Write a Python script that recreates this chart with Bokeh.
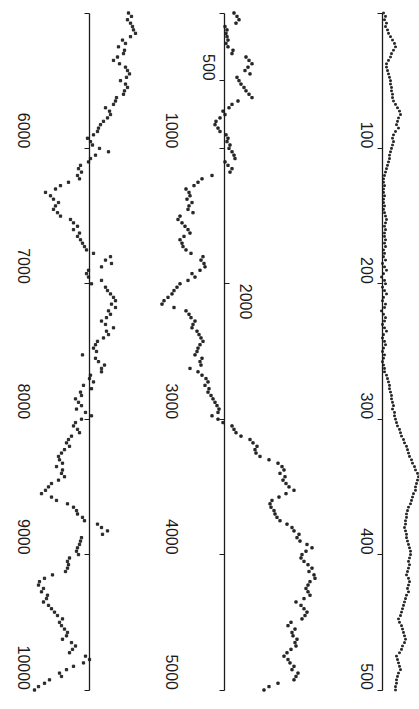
import math
import numpy as np
from bokeh.plotting import figure
from bokeh.layouts import row
from bokeh.models import Range1d, LinearAxis, FixedTicker
from bokeh.embed import file_html
from bokeh.resources import INLINE

# ---------------- data ----------------
# panel 1: 0..500, sampled every 2.5
t_fine = np.arange(0, 500.001, 2.5)
v_fine = [1, 3, 2, 4, 3, 5,
          6, 8, 10, 12, 13, 11, 9,
          8, 6,
          4, 4, 5, 6, 7, 8, 8, 9, 9, 10, 10, 11,
          13, 15, 17, 18, 16, 15, 14, 16, 13,
          11, 10, 11, 10, 9, 8,
          7, 7, 6, 5, 4, 3,
          2, 1, 1, 2, 1, 1, 2, 1, 1, 2, 1, 2,
          3, 4, 3, 2, 3, 2, 2,
          3, 2, 3, 1, 2,
          1, 3, 0, 2, 4, 1, -1, 2, 3, 0, 2, 4, 1, 0, 3, 2, -1, 1, 3, 2, 0, 2, 4, 1, 0, 2, 3, 1, 0, 2, 1, 0,
          1, 2, 2,
          4, 5, 6, 7, 7, 8, 9, 9, 10, 11, 10, 12, 12,
          13, 14, 15, 17, 18, 19, 21, 22, 24, 25, 26, 27, 29,
          30, 32, 33, 35, 36, 35, 34, 33,
          33, 31, 30, 29, 28, 26, 25,
          24, 24, 23, 23, 22, 23, 24,
          24, 25, 26, 27, 28, 28, 27, 26, 27, 26,
          25, 24, 26, 27, 26, 25, 26,
          24, 23, 22, 21, 20, 19, 18,
          16, 17, 19, 20, 21, 22, 23, 22, 20,
          19, 17, 14, 15, 16, 17, 18, 16, 15,
          14, 14, 13, 13]

# panel 2: 0..5000, sampled every 25
t_mid = np.arange(0, 5000.001, 25)
v_mid = [10, 13, 15, 12,
         1, 3, 2, 3, 4, 2, 4,
         9, 8,
         22, 25, 28, 24, 21, 26,
         13, 15, 17, 20, 22, 25, 28,
         14, 8, 5, -1, 1,
         -4, -8, -9, -6, -4,
         2, 4, 3, 6, 5, 8, 10, 11,
         1, 4, 8, 6,
         -12, -22, -26, -30,
         -38, -35, -34, -37, -32, -35, -36, -31, -44, -46, -42, -39, -36, -34, -40, -44,
         -42, -41, -38, -33,
         -21, -23, -20, -19, -24, -32, -29, -36,
         -44, -47, -50, -52, -56, -60, -62, -50,
         -38, -35, -33, -29, -31, -32, -27, -25, -23, -21, -24, -26,
         -27, -29, -22, -24, -23, -34, -26, -22,
         -18, -16, -19, -15, -16, -13, -11, -9,
         -7, -5, -6, -12, -6, -1,
         8, 10, 12, 17, 26, 29, 33, 31, 32, 36, 45, 54, 58, 60,
         56, 61, 59, 62, 65, 70, 62,
         55, 48, 46, 47, 50, 51, 53, 56,
         63, 68, 70, 75, 73, 76,
         83, 88, 82, 78, 77, 80, 84, 88, 85, 90, 91, 86, 84, 82, 84, 86,
         80, 72, 77, 80, 83, 81, 78,
         67, 64, 71, 68, 69, 73, 71, 72, 67,
         63, 60, 64, 66, 70, 68, 74, 72, 70,
         54, 45, 40]

# panel 3: 5000..10000, sampled every 25
t_long = np.arange(5000, 10000.001, 25)
v_long = [39, 42, 38, 41, 43, 44, 46, 41,
          33, 36, 29, 35, 34, 28, 24, 30,
          36, 38, 40, 37, 31, 36, 38, 35, 34,
          27, 26, 24, 16, 20, 21, 18, 14, 11, 9, 8, 4,
          -2, 1, 3, 10, 19, 6, 1, -1,
          -9, -11, -8, -12, -10,
          -21, -29, -34, -44, -39, -36, -31, -34, -36, -32, -29,
          -19, -16, -12, -16, -10, -12,
          -9, -7, -5, -3,
          4, 21, 16, 22, 12,
          -1, -3, -1, 12, 2, 16,
          18, 21, 24, 26, 22, 26, 19, 21, 17,
          12, 16, 24, 17, 19, 14, 8,
          6, 4, 7, -7, 6, 9, 15, 12, 12,
          1, 0, 4, -6, 2, -9, -8, -14, -11, -8, -13, -4, 2,
          -8, -14, -16, -12, -10, -18, -21, -23, -20, -25, -28, -31, -30, -27, -33,
          -27, -28, -25, -31, -38, -41, -44, -48, -38, -33,
          -22, -16, -13, -12, -7, -5, 8, 12, 18, 13,
          -8, -9, -10, -12, -13, -11,
          -20, -22, -21, -22, -24, -37, -45, -50, -51, -46, -48,
          -42, -43, -46, -41, -38, -35, -32, -27, -30, -28,
          -25, -22, -23, -27, -18, -14, -17, -20,
          -4, 0, -6, -16, -23, -30, -28, -40, -45, -51, -55]

assert len(v_fine) == len(t_fine), (len(v_fine), len(t_fine))
assert len(v_mid) == len(t_mid), (len(v_mid), len(t_mid))
assert len(v_long) == len(t_long), (len(v_long), len(t_long))

# tick labels
ticks_fine = [100, 200, 300, 400, 500]
ticks_mid_far = [1000, 3000, 4000, 5000]
ticks_mid_near = [500]
ticks_mid_above = [2000]
ticks_long = [6000, 7000, 8000, 9000, 10000]

# ---------------- styling ----------------
FONT = "Liberation Sans"
H = 709
TOP_PAD = 12.5
BOT_PAD = 19.5
INK = "#1b1b1b"


def make_panel(width, axis_px, t0, t1, t, v, dot):
    k = (t1 - t0) / (H - TOP_PAD - BOT_PAD)
    p = figure(width=width, height=H, output_backend="svg", toolbar_location=None,
               x_axis_location=None, y_axis_location=None, min_border=0,
               x_range=Range1d(-axis_px, width - axis_px),
               y_range=Range1d(t1 + BOT_PAD * k, t0 - TOP_PAD * k))
    p.outline_line_color = None
    p.grid.visible = False
    p.background_fill_color = "white"
    p.border_fill_color = "white"
    p.scatter(v, t, marker="square", size=dot, color=INK, alpha=0.9)
    return p


def add_axis(p, t0, t1, ticks, side, standoff, blank_start=False, line=True):
    tk = list(ticks)
    overrides = {}
    if blank_start:
        tk = [t0] + tk
        overrides = {t0: ""}
    ax = LinearAxis(fixed_location=0, ticker=FixedTicker(ticks=tk, minor_ticks=[]),
                    bounds=(t0, t1))
    ax.major_label_overrides = overrides
    ax.major_label_orientation = -math.pi / 2
    ax.major_label_standoff = standoff
    ax.major_label_text_font = FONT
    ax.major_label_text_font_size = "16px"
    ax.major_label_text_color = INK
    ax.major_tick_in = 0
    ax.major_tick_out = 5
    ax.major_tick_line_color = INK
    ax.major_tick_line_width = 1.2
    ax.minor_tick_line_color = None
    if line:
        ax.axis_line_color = INK
        ax.axis_line_width = 1.3
    else:
        ax.axis_line_color = None
    p.add_layout(ax, side)
    return ax


# left panel: 5000..10000
p_long = make_panel(150, 89, 5000, 10000, t_long, v_long, 2.3)
add_axis(p_long, 5000, 10000, ticks_long, "left", 61, blank_start=True)

# middle panel: 0..5000
p_mid = make_panel(180, 73.5, 0, 5000, t_mid, v_mid, 2.3)
add_axis(p_mid, 0, 5000, ticks_mid_far, "left", 47, blank_start=True)
add_axis(p_mid, 0, 5000, ticks_mid_near, "left", 10, line=False)
add_axis(p_mid, 0, 5000, ticks_mid_above, "right", 17, line=False)

# right panel: 0..500
p_fine = make_panel(89, 52, 0, 500, t_fine, v_fine, 1.7)
add_axis(p_fine, 0, 500, ticks_fine, "left", 11, blank_start=True)

layout = row(p_long, p_mid, p_fine, spacing=0)

open("out.html", "w").write(file_html(layout, INLINE))
